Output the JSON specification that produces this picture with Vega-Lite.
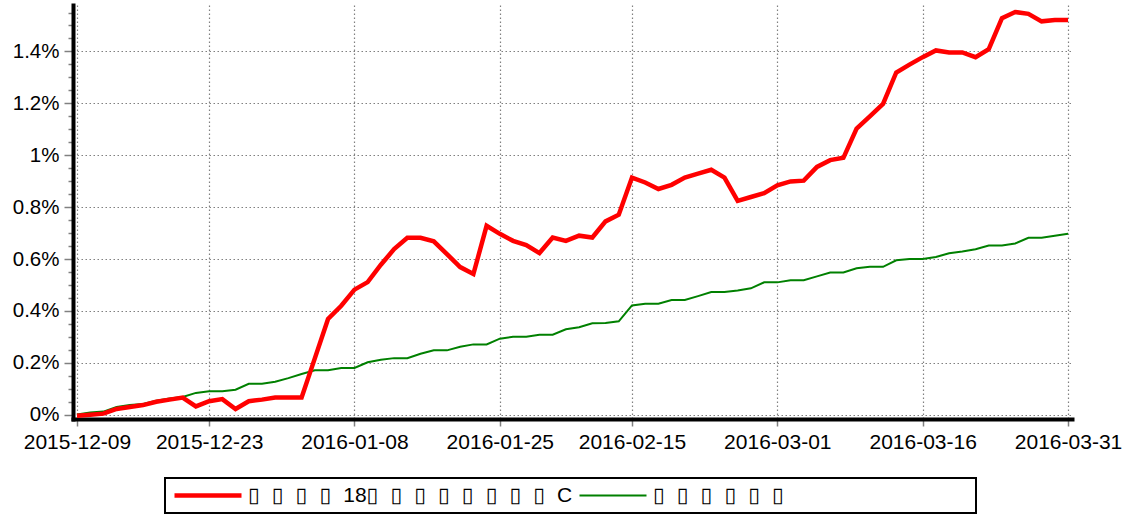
{
  "$schema": "https://vega.github.io/schema/vega-lite/v6.json",
  "width": 999,
  "height": 414,
  "autosize": {"type": "none"},
  "padding": {"left": 73, "top": 5, "right": 54, "bottom": 100},
  "config": {
    "font": "Liberation Sans",
    "view": {"stroke": null},
    "legend": {"strokeWidth": 2}
  },
  "data": {
    "values": [
      {"date": "2015-12-09", "fund": -0.004, "benchmark": 0.001},
      {"date": "2015-12-10", "fund": 0.0, "benchmark": 0.008},
      {"date": "2015-12-11", "fund": 0.004, "benchmark": 0.012},
      {"date": "2015-12-14", "fund": 0.022, "benchmark": 0.030},
      {"date": "2015-12-15", "fund": 0.030, "benchmark": 0.037},
      {"date": "2015-12-16", "fund": 0.037, "benchmark": 0.041},
      {"date": "2015-12-17", "fund": 0.050, "benchmark": 0.054},
      {"date": "2015-12-18", "fund": 0.058, "benchmark": 0.062},
      {"date": "2015-12-21", "fund": 0.066, "benchmark": 0.068},
      {"date": "2015-12-22", "fund": 0.032, "benchmark": 0.084},
      {"date": "2015-12-23", "fund": 0.052, "benchmark": 0.090},
      {"date": "2015-12-24", "fund": 0.060, "benchmark": 0.090},
      {"date": "2015-12-25", "fund": 0.022, "benchmark": 0.096},
      {"date": "2015-12-28", "fund": 0.052, "benchmark": 0.119},
      {"date": "2015-12-29", "fund": 0.058, "benchmark": 0.119},
      {"date": "2015-12-30", "fund": 0.066, "benchmark": 0.127},
      {"date": "2015-12-31", "fund": 0.066, "benchmark": 0.141},
      {"date": "2016-01-04", "fund": 0.066, "benchmark": 0.157},
      {"date": "2016-01-05", "fund": 0.217, "benchmark": 0.171},
      {"date": "2016-01-06", "fund": 0.369, "benchmark": 0.171},
      {"date": "2016-01-07", "fund": 0.420, "benchmark": 0.180},
      {"date": "2016-01-08", "fund": 0.482, "benchmark": 0.180},
      {"date": "2016-01-11", "fund": 0.511, "benchmark": 0.202},
      {"date": "2016-01-12", "fund": 0.578, "benchmark": 0.212},
      {"date": "2016-01-13", "fund": 0.638, "benchmark": 0.218},
      {"date": "2016-01-14", "fund": 0.682, "benchmark": 0.218},
      {"date": "2016-01-15", "fund": 0.682, "benchmark": 0.235},
      {"date": "2016-01-18", "fund": 0.668, "benchmark": 0.248},
      {"date": "2016-01-19", "fund": 0.619, "benchmark": 0.248},
      {"date": "2016-01-20", "fund": 0.569, "benchmark": 0.262},
      {"date": "2016-01-21", "fund": 0.542, "benchmark": 0.271},
      {"date": "2016-01-22", "fund": 0.728, "benchmark": 0.271},
      {"date": "2016-01-25", "fund": 0.697, "benchmark": 0.293},
      {"date": "2016-01-26", "fund": 0.670, "benchmark": 0.300},
      {"date": "2016-01-27", "fund": 0.654, "benchmark": 0.300},
      {"date": "2016-01-28", "fund": 0.623, "benchmark": 0.308},
      {"date": "2016-01-29", "fund": 0.683, "benchmark": 0.308},
      {"date": "2016-02-01", "fund": 0.670, "benchmark": 0.329},
      {"date": "2016-02-02", "fund": 0.690, "benchmark": 0.337},
      {"date": "2016-02-03", "fund": 0.683, "benchmark": 0.352},
      {"date": "2016-02-04", "fund": 0.745, "benchmark": 0.353},
      {"date": "2016-02-05", "fund": 0.771, "benchmark": 0.360},
      {"date": "2016-02-15", "fund": 0.914, "benchmark": 0.421},
      {"date": "2016-02-16", "fund": 0.895, "benchmark": 0.428},
      {"date": "2016-02-17", "fund": 0.870, "benchmark": 0.428},
      {"date": "2016-02-18", "fund": 0.886, "benchmark": 0.442},
      {"date": "2016-02-19", "fund": 0.914, "benchmark": 0.442},
      {"date": "2016-02-22", "fund": 0.929, "benchmark": 0.457},
      {"date": "2016-02-23", "fund": 0.944, "benchmark": 0.473},
      {"date": "2016-02-24", "fund": 0.914, "benchmark": 0.473},
      {"date": "2016-02-25", "fund": 0.824, "benchmark": 0.479},
      {"date": "2016-02-26", "fund": 0.839, "benchmark": 0.487},
      {"date": "2016-02-29", "fund": 0.854, "benchmark": 0.510},
      {"date": "2016-03-01", "fund": 0.884, "benchmark": 0.510},
      {"date": "2016-03-02", "fund": 0.899, "benchmark": 0.518},
      {"date": "2016-03-03", "fund": 0.902, "benchmark": 0.518},
      {"date": "2016-03-04", "fund": 0.955, "benchmark": 0.533},
      {"date": "2016-03-07", "fund": 0.981, "benchmark": 0.548},
      {"date": "2016-03-08", "fund": 0.990, "benchmark": 0.548},
      {"date": "2016-03-09", "fund": 1.103, "benchmark": 0.564},
      {"date": "2016-03-10", "fund": 1.150, "benchmark": 0.570},
      {"date": "2016-03-11", "fund": 1.198, "benchmark": 0.570},
      {"date": "2016-03-14", "fund": 1.319, "benchmark": 0.595},
      {"date": "2016-03-15", "fund": 1.349, "benchmark": 0.600},
      {"date": "2016-03-16", "fund": 1.378, "benchmark": 0.600},
      {"date": "2016-03-17", "fund": 1.404, "benchmark": 0.608},
      {"date": "2016-03-18", "fund": 1.396, "benchmark": 0.622},
      {"date": "2016-03-21", "fund": 1.396, "benchmark": 0.629},
      {"date": "2016-03-22", "fund": 1.378, "benchmark": 0.638},
      {"date": "2016-03-23", "fund": 1.409, "benchmark": 0.652},
      {"date": "2016-03-24", "fund": 1.528, "benchmark": 0.652},
      {"date": "2016-03-25", "fund": 1.552, "benchmark": 0.660},
      {"date": "2016-03-28", "fund": 1.545, "benchmark": 0.682},
      {"date": "2016-03-29", "fund": 1.516, "benchmark": 0.682},
      {"date": "2016-03-30", "fund": 1.521, "benchmark": 0.690},
      {"date": "2016-03-31", "fund": 1.521, "benchmark": 0.697}
    ]
  },
  "transform": [{"fold": ["benchmark", "fund"], "as": ["series", "value"]}],
  "mark": {"type": "line", "clip": false},
  "encoding": {
    "x": {
      "field": "date",
      "type": "ordinal",
      "scale": {"type": "point", "padding": 0.3},
      "axis": {
        "values": ["2015-12-09", "2015-12-23", "2016-01-08", "2016-01-25", "2016-02-15", "2016-03-01", "2016-03-16", "2016-03-31"],
        "title": null,
        "labelAngle": 0,
        "labelFontSize": 21,
        "labelColor": "#000000",
        "labelPadding": 5,
        "labelOverlap": false,
        "labelBound": false,
        "labelFlush": false,
        "tickSize": 7,
        "tickColor": "#808080",
        "tickWidth": 1.5,
        "domainColor": "#000000",
        "domainWidth": 4,
        "domainCap": "square",
        "grid": true,
        "gridColor": "#808080",
        "gridDash": [1.5, 2.5],
        "gridWidth": 1.2
      }
    },
    "y": {
      "field": "value",
      "type": "quantitative",
      "scale": {"domain": [-0.0166, 1.579], "nice": false, "zero": false},
      "axis": {
        "values": [0, 0.05, 0.1, 0.15, 0.2, 0.25, 0.3, 0.35, 0.4, 0.45, 0.5, 0.55, 0.6, 0.65, 0.7, 0.75, 0.8, 0.85, 0.9, 0.95, 1, 1.05, 1.1, 1.15, 1.2, 1.25, 1.3, 1.35, 1.4, 1.45, 1.5, 1.55],
        "title": null,
        "labelExpr": "abs(datum.value*5-round(datum.value*5))<0.01 ? format(datum.value,'~g')+'%' : ''",
        "labelFontSize": 20.5,
        "labelColor": "#000000",
        "labelPadding": 5,
        "labelOverlap": false,
        "labelBound": false,
        "labelFlush": false,
        "tickSize": {"condition": {"test": "abs(datum.value*5-round(datum.value*5))<0.01", "value": 9}, "value": 5},
        "tickColor": "#808080",
        "tickWidth": 1.5,
        "domainColor": "#000000",
        "domainWidth": 4,
        "domainCap": "square",
        "grid": true,
        "gridColor": "#808080",
        "gridDash": [1.5, 2.5],
        "gridWidth": 1.2,
        "gridOpacity": {"condition": {"test": "abs(datum.value*5-round(datum.value*5))<0.01", "value": 1}, "value": 0}
      }
    },
    "color": {
      "field": "series",
      "type": "nominal",
      "scale": {"domain": ["fund", "benchmark"], "range": ["#ff0000", "#008000"]},
      "legend": {
        "title": null,
        "orient": "none",
        "legendX": 92,
        "legendY": 473,
        "direction": "horizontal",
        "columns": 2,
        "symbolType": "stroke",
        "symbolSize": 4489,
        "symbolOffset": 0,
        "clipHeight": 21,
        "labelFont": "Liberation Sans, DejaVu Sans",
        "labelFontSize": 21,
        "labelColor": "#000000",
        "labelOffset": 4,
        "labelLimit": 600,
        "columnPadding": 4,
        "padding": 7,
        "strokeColor": "#000000",
        "fillColor": "#ffffff",
        "labelExpr": "datum.value === 'fund' ? '\u25af\u2002\u200a\u25af\u2002\u200a\u25af\u2002\u200a\u25af\u2002\u200a18\u25af\u2002\u200a\u25af\u2002\u200a\u25af\u2002\u200a\u25af\u2002\u200a\u25af\u2002\u200a\u25af\u2002\u200a\u25af\u2002\u200a\u25af\u2002\u200aC' : '\u25af\u2002\u200a\u25af\u2002\u200a\u25af\u2002\u200a\u25af\u2002\u200a\u25af\u2002\u200a\u25af\u2800\u2800\u2800\u2800\u2800\u2800\u2800\u2800\u2800\u2800\u2800\u2800'"
      }
    },
    "strokeWidth": {
      "field": "series",
      "type": "nominal",
      "scale": {"domain": ["fund", "benchmark"], "range": [4.5, 2]}
    }
  }
}
